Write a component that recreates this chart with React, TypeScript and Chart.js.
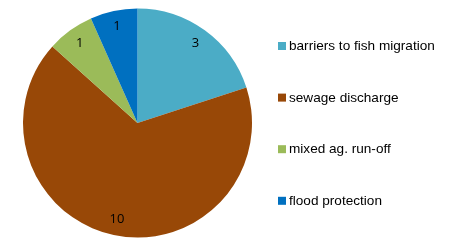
import React, { useEffect, useRef } from "react";
import { Chart, registerables } from "chart.js";

Chart.register(...registerables);

const categories = [
  "barriers to fish migration",
  "sewage discharge",
  "mixed ag. run-off",
  "flood protection",
];
const counts = [3, 10, 1, 1];
const colors = ["#4BACC6", "#984807", "#9BBB59", "#0070C0"];

const sliceLabels = {
  id: "sliceLabels",
  afterDatasetsDraw(chart: any) {
    const ctx = chart.ctx;
    const meta = chart.getDatasetMeta(0);
    ctx.save();
    ctx.font = "13px 'Open Sans', 'Liberation Sans', sans-serif";
    ctx.fillStyle = "#000";
    ctx.textAlign = "center";
    ctx.textBaseline = "middle";
    meta.data.forEach((arc: any, i: number) => {
      const { x, y, startAngle, endAngle, outerRadius } = arc.getProps(
        ["x", "y", "startAngle", "endAngle", "outerRadius"],
        true
      );
      const mid = (startAngle + endAngle) / 2;
      const r = outerRadius * 0.86;
      ctx.fillText(String(chart.data.datasets[0].data[i]), x + Math.cos(mid) * r, y + Math.sin(mid) * r);
    });
    ctx.restore();
  },
};

const sideLegend = {
  id: "sideLegend",
  afterDraw(chart: any) {
    const ctx = chart.ctx;
    const ds = chart.data.datasets[0];
    ctx.save();
    ctx.font = "13.6px 'Liberation Sans', Arial, sans-serif";
    ctx.textBaseline = "middle";
    ctx.textAlign = "left";
    chart.data.labels.forEach((label: string, i: number) => {
      const cy = 46 + i * 51.6;
      ctx.fillStyle = ds.backgroundColor[i];
      ctx.fillRect(278, cy - 4, 8, 8);
      ctx.fillStyle = "#000";
      ctx.fillText(label, 289, cy + 0.5);
    });
    ctx.restore();
  },
};

export default function App() {
  const ref = useRef<HTMLCanvasElement>(null);
  useEffect(() => {
    if (!ref.current) return;
    const chart = new Chart(ref.current, {
      type: "pie",
      data: {
        labels: categories,
        datasets: [
          {
            data: counts,
            backgroundColor: colors,
            borderWidth: 0,
          },
        ],
      },
      options: {
        animation: false,
        responsive: false,
        maintainAspectRatio: false,
        layout: { padding: { left: 23, right: 221, top: 8.5, bottom: 2.5 } },
        plugins: {
          legend: { display: false },
          tooltip: { enabled: false },
        },
      },
      plugins: [sliceLabels, sideLegend],
    });
    return () => chart.destroy();
  }, []);
  return (
    <div style={{ position: "absolute", left: 0, top: 0, width: 473, height: 240, background: "#fff" }}>
      <canvas ref={ref} width={473} height={240} style={{ width: 473, height: 240 }} />
    </div>
  );
}
